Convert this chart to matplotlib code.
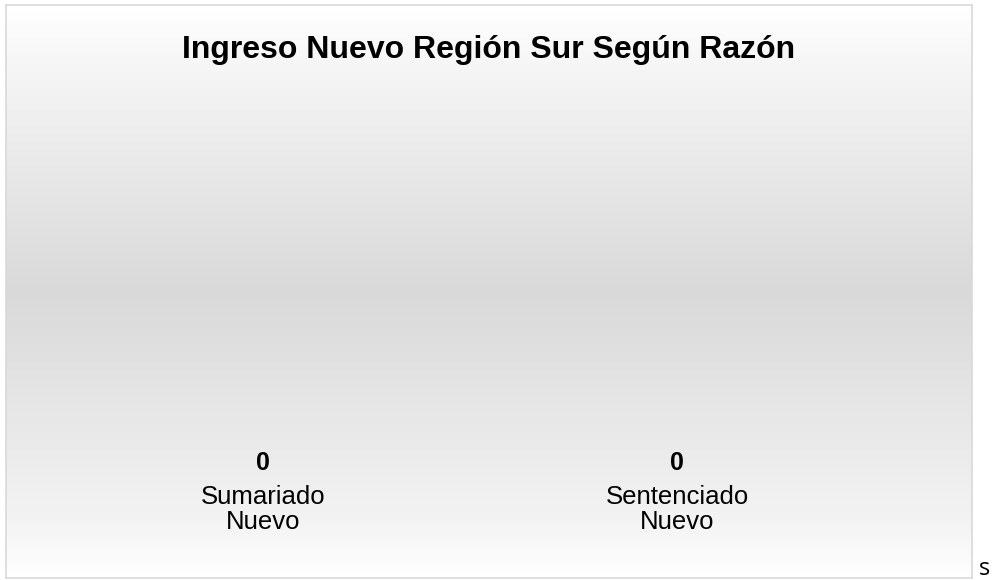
import numpy as np
import matplotlib
matplotlib.use("Agg")
import matplotlib.pyplot as plt
from matplotlib.colors import LinearSegmentedColormap

categories = ["Sumariado\nNuevo", "Sentenciado\nNuevo"]
values = [0, 0]
title = "Ingreso Nuevo Región Sur Según Razón"

W, H = 992, 580
fig = plt.figure(figsize=(W / 100, H / 100), dpi=100)
fig.patch.set_facecolor("white")

# background frame with vertical gradient
fx0, fy0, fx1, fy1 = 6, 5, 972, 578
bg = fig.add_axes([fx0 / W, 1 - fy1 / H, (fx1 - fx0) / W, (fy1 - fy0) / H])
cmap = LinearSegmentedColormap.from_list(
    "g", [(0.0, "#ffffff"), (0.1, "#f6f6f6"), (0.5, "#d9d9d9"), (0.9, "#f3f3f3"), (1.0, "#ffffff")])
grad = np.linspace(0, 1, 256).reshape(-1, 1)
bg.imshow(grad, aspect="auto", cmap=cmap, extent=[0, 1, 1, 0])
bg.set_xticks([]); bg.set_yticks([])
for s in bg.spines.values():
    s.set_color("#d9d9d9"); s.set_linewidth(1.2)

# plot area
px0, px1, py0, py1 = 56, 884, 95, 478
ax = fig.add_axes([px0 / W, 1 - py1 / H, (px1 - px0) / W, (py1 - py0) / H])
ax.patch.set_alpha(0)
x = np.arange(len(categories))
bars = ax.bar(x, values, width=0.6, color="#4f81bd")
ax.set_xlim(-0.5, len(categories) - 0.5)
ax.set_ylim(0, 1)
ax.bar_label(bars, labels=[str(v) for v in values], padding=2,
             fontsize=18, fontweight="bold", family="Liberation Sans")
ax.set_xticks(x)
ax.set_xticklabels(categories, fontsize=18.5, family="Liberation Sans", linespacing=1.05)
ax.tick_params(axis="x", length=0, pad=5)
ax.set_yticks([])
for s in ax.spines.values():
    s.set_visible(False)

fig.text(489 / W, 1 - 50 / H, title, ha="center", va="center",
         fontsize=23, fontweight="bold", family="Liberation Sans")
fig.text(979 / W, 1 - 575 / H, "s", ha="left", va="baseline",
         fontsize=17, family="Open Sans")

fig.savefig("out.png", dpi=100)
